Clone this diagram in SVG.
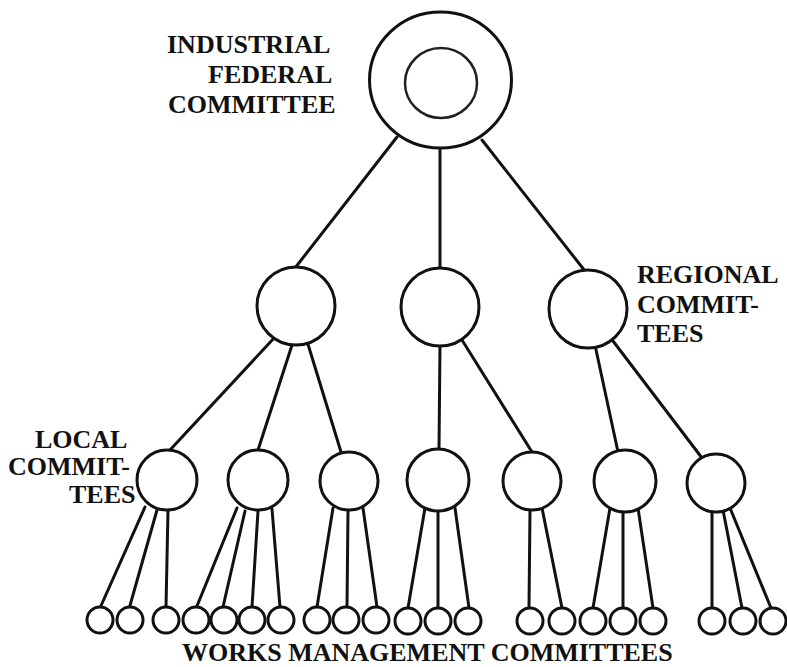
<svg xmlns="http://www.w3.org/2000/svg" width="787" height="667" viewBox="0 0 787 667">
<style>
.n{fill:#fff;stroke:#111;stroke-width:3}
.in{fill:none;stroke:#222;stroke-width:2.5}
.c line{stroke:#111;stroke-width:3;stroke-linecap:round}
.t{font-family:"Liberation Serif","Times New Roman",serif;font-weight:bold;font-size:26px;fill:#111}
</style>
<rect width="787" height="667" fill="#fff"/>
<g class="c" id="connectors">
<line x1="397" y1="137" x2="295" y2="268"/>
<line x1="440" y1="150" x2="440" y2="268"/>
<line x1="482" y1="140" x2="585" y2="271"/>
<line x1="275" y1="337" x2="170" y2="450"/>
<line x1="293" y1="342" x2="258" y2="450"/>
<line x1="307" y1="341" x2="341" y2="452"/>
<line x1="440" y1="344" x2="439" y2="450"/>
<line x1="462" y1="340" x2="532" y2="452"/>
<line x1="595" y1="345" x2="618" y2="452"/>
<line x1="613" y1="341" x2="702" y2="458"/>
<line x1="145" y1="507" x2="100" y2="608"/>
<line x1="157" y1="510" x2="129" y2="609"/>
<line x1="168" y1="510" x2="166" y2="607"/>
<line x1="237" y1="508" x2="197" y2="606"/>
<line x1="245" y1="511" x2="223" y2="607"/>
<line x1="258" y1="511" x2="252" y2="607"/>
<line x1="272" y1="509" x2="280" y2="607"/>
<line x1="333" y1="508" x2="317" y2="607"/>
<line x1="348" y1="511" x2="347" y2="607"/>
<line x1="363" y1="508" x2="377" y2="607"/>
<line x1="425" y1="508" x2="408" y2="608"/>
<line x1="438" y1="511" x2="438" y2="608"/>
<line x1="455" y1="508" x2="469" y2="608"/>
<line x1="530" y1="510" x2="529" y2="607"/>
<line x1="542" y1="508" x2="562" y2="608"/>
<line x1="610" y1="508" x2="593" y2="608"/>
<line x1="623" y1="511" x2="623" y2="608"/>
<line x1="638" y1="508" x2="653" y2="608"/>
<line x1="712" y1="511" x2="712" y2="608"/>
<line x1="723" y1="510" x2="742" y2="608"/>
<line x1="730" y1="508" x2="771" y2="608"/>
</g>
<g id="federal">
<ellipse class="n" cx="440.5" cy="80" rx="71" ry="68"/>
<ellipse class="in" cx="441" cy="83" rx="36" ry="35"/>
<text class="t" x="167" y="53">INDUSTRIAL</text>
<text class="t" x="208" y="83">FEDERAL</text>
<text class="t" x="168" y="113">COMMITTEE</text>
</g>
<g id="regional">
<circle class="n" cx="296" cy="306" r="39"/>
<circle class="n" cx="440" cy="307" r="39"/>
<circle class="n" cx="588" cy="309" r="39"/>
<text class="t" x="637" y="283">REGIONAL</text>
<text class="t" x="637" y="313">COMMIT-</text>
<text class="t" x="637" y="342">TEES</text>
</g>
<g id="local">
<circle class="n" cx="167" cy="480" r="30"/>
<circle class="n" cx="258" cy="480" r="30"/>
<circle class="n" cx="349" cy="481" r="29"/>
<circle class="n" cx="438" cy="480" r="31"/>
<circle class="n" cx="532" cy="481" r="29"/>
<circle class="n" cx="625" cy="481" r="31"/>
<circle class="n" cx="716" cy="483" r="29"/>
<text class="t" x="35" y="448">LOCAL</text>
<text class="t" x="8" y="475">COMMIT-</text>
<text class="t" x="69" y="503">TEES</text>
</g>
<g id="works">
<circle class="n" cx="100" cy="620" r="13"/>
<circle class="n" cx="130" cy="620" r="13"/>
<circle class="n" cx="166" cy="620" r="13"/>
<circle class="n" cx="196" cy="620" r="13"/>
<circle class="n" cx="224" cy="620" r="13"/>
<circle class="n" cx="252" cy="620" r="13"/>
<circle class="n" cx="281" cy="620" r="13"/>
<circle class="n" cx="317" cy="620" r="13"/>
<circle class="n" cx="346" cy="620" r="13"/>
<circle class="n" cx="376" cy="620" r="13"/>
<circle class="n" cx="408" cy="621" r="13"/>
<circle class="n" cx="438" cy="621" r="13"/>
<circle class="n" cx="468" cy="621" r="13"/>
<circle class="n" cx="530" cy="621" r="13"/>
<circle class="n" cx="562" cy="621" r="13"/>
<circle class="n" cx="593" cy="621" r="13"/>
<circle class="n" cx="623" cy="621" r="13"/>
<circle class="n" cx="653" cy="621" r="13"/>
<circle class="n" cx="712" cy="621" r="13"/>
<circle class="n" cx="743" cy="621" r="13"/>
<circle class="n" cx="773" cy="621" r="13"/>
<text class="t" x="182" y="661">WORKS MANAGEMENT COMMITTEES</text>
</g>
</svg>
